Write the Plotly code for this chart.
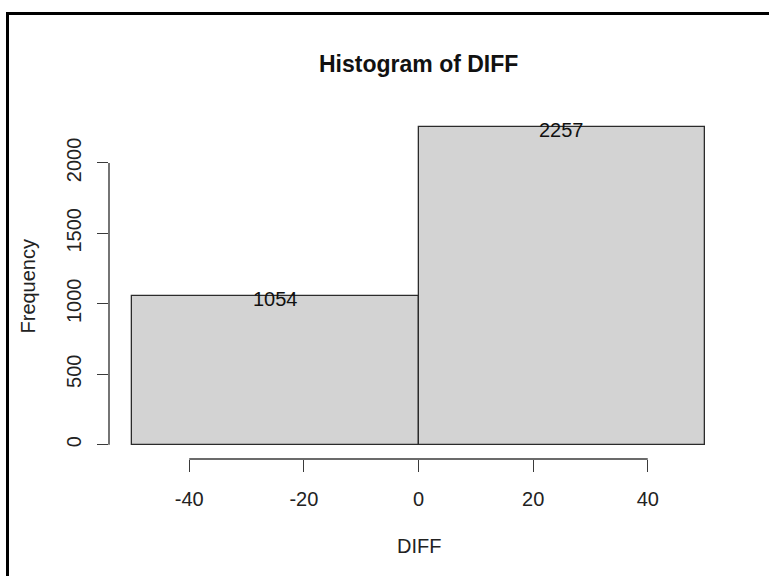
import plotly.graph_objects as go

# ---- data ----
bin_edges = [-50, 0, 50]
counts = [1054, 2257]
x_ticks = [-40, -20, 0, 20, 40]
y_ticks = [0, 500, 1000, 1500, 2000]
title_text = "Histogram of DIFF"
x_label = "DIFF"
y_label = "Frequency"

# ---- layout constants (pixels) ----
W, H = 769, 576
ML, MR, MT, MB = 109, 41, 114, 117
PW, PH = W - ML - MR, H - MT - MB
FONT = "Liberation Sans, Arial, sans-serif"
AXC = "#3a3a3a"

centers = [(a + b) / 2 for a, b in zip(bin_edges[:-1], bin_edges[1:])]
widths = [b - a for a, b in zip(bin_edges[:-1], bin_edges[1:])]

xspan = bin_edges[-1] - bin_edges[0]
xr = [bin_edges[0] - 0.04 * xspan, bin_edges[-1] + 0.04 * xspan]
ymax = max(counts)
yr = [-0.045 * ymax, 1.04 * ymax]


def px_x(p):
    return (p - ML) / PW


def px_y(p):
    return (H - MB - p) / PH


fig = go.Figure()
fig.add_trace(go.Bar(
    x=centers, y=counts, width=widths,
    marker=dict(color="#D3D3D3", line=dict(color="#2b2b2b", width=1.3)),
    hoverinfo="skip", showlegend=False,
))

count_labels = [
    dict(text=str(c), x=xc, y=c, xref="x", yref="y", yshift=-3,
         xanchor="center", yanchor="middle", showarrow=False,
         font=dict(family=FONT, size=20, color="#111111"))
    for xc, c in zip(centers, counts)
]

fig.update_layout(
    width=W, height=H,
    margin=dict(l=ML, r=MR, t=MT, b=MB, pad=0),
    paper_bgcolor="white", plot_bgcolor="white",
    font=dict(family=FONT, size=20, color="#222222"),
    bargap=0,
    xaxis=dict(
        range=xr, tickmode="array", tickvals=x_ticks,
        ticktext=[str(t) for t in x_ticks],
        ticks="outside", ticklen=12, tickwidth=1.4, tickcolor=AXC,
        showline=False, showgrid=False, zeroline=False,
        tickfont=dict(family=FONT, size=20, color="#222222"),
        ticklabelstandoff=10,
    ),
    yaxis=dict(
        range=yr, tickmode="array", tickvals=y_ticks,
        ticktext=[str(t) for t in y_ticks], tickangle=-90,
        ticks="outside", ticklen=11, tickwidth=1.4, tickcolor=AXC,
        showline=False, showgrid=False, zeroline=False,
        tickfont=dict(family=FONT, size=20, color="#222222"),
        ticklabelstandoff=8,
    ),
    shapes=[
        # x axis line spanning the tick range
        dict(type="line", xref="x", yref="paper",
             x0=min(x_ticks), x1=max(x_ticks), y0=0, y1=0,
             line=dict(color=AXC, width=1.4)),
        # y axis line spanning the tick range
        dict(type="line", xref="paper", yref="y",
             x0=0, x1=0, y0=min(y_ticks), y1=max(y_ticks),
             line=dict(color=AXC, width=1.4)),
        # outer frame
        dict(type="rect", xref="paper", yref="paper",
             x0=px_x(7.5), x1=px_x(775), y0=px_y(13.5), y1=px_y(585),
             line=dict(color="black", width=3)),
    ],
    annotations=count_labels + [
        dict(text="<b>" + title_text + "</b>", xref="paper", yref="paper",
             x=0.5, y=px_y(64.5), xanchor="center", yanchor="middle",
             showarrow=False, font=dict(family=FONT, size=23, color="#111111")),
        dict(text=x_label, xref="paper", yref="paper",
             x=0.5, y=px_y(546), xanchor="center", yanchor="middle",
             showarrow=False, font=dict(family=FONT, size=20, color="#222222")),
        dict(text=y_label, xref="paper", yref="paper",
             x=px_x(27), y=0.5, xanchor="center", yanchor="middle",
             textangle=-90,
             showarrow=False, font=dict(family=FONT, size=20, color="#222222")),
    ],
)

fig.write_html("out.html", config={"displayModeBar": False},
               post_script="document.body.style.margin='0';document.body.style.overflow='hidden';")
